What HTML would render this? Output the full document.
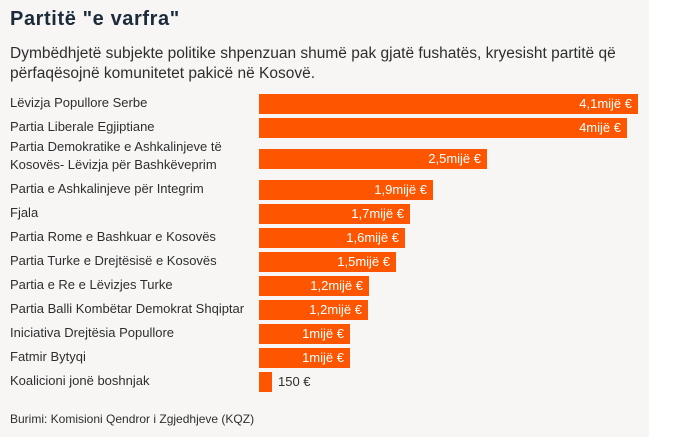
<!DOCTYPE html>
<html>
<head>
<meta charset="utf-8">
<style>
  html,body{margin:0;padding:0;}
  body{width:673px;height:441px;background:#ffffff;position:relative;overflow:hidden;font-family:"Liberation Sans",Arial,sans-serif;}
  #panel{position:absolute;left:0;top:0;width:649px;height:437px;background:#f7f6f5;}
  .title{position:absolute;left:10px;top:7px;font-size:20px;line-height:24px;font-weight:bold;color:#1c2b3a;letter-spacing:0.6px;white-space:nowrap;}
  .sub{position:absolute;left:10px;top:44px;font-size:15.5px;line-height:20px;color:#2e2e2e;white-space:nowrap;}
  .lbl{position:absolute;left:10px;font-size:13px;line-height:20px;height:20px;color:#2e2e2e;white-space:nowrap;margin-top:-1.5px;}
  .lbl2{position:absolute;left:10px;font-size:13px;line-height:18px;color:#2e2e2e;white-space:nowrap;}
  .bar{position:absolute;left:259px;height:20px;background:#fe5600;}
  .val{position:absolute;right:6px;top:0;font-size:13px;line-height:20px;color:#ffffff;white-space:nowrap;}
  .out{position:absolute;font-size:13px;line-height:20px;color:#2e2e2e;white-space:nowrap;}
  .src{position:absolute;left:10px;top:411px;font-size:12px;line-height:16px;color:#2e2e2e;white-space:nowrap;}
</style>
</head>
<body>
<div id="panel"></div>
<div class="title">Partitë "e varfra"</div>
<div class="sub">Dymbëdhjetë subjekte politike shpenzuan shumë pak gjatë fushatës, kryesisht partitë që<br>përfaqësojnë komunitetet pakicë në Kosovë.</div>

<div class="lbl" style="top:94px;">Lëvizja Popullore Serbe</div>
<div class="bar" style="top:94px;width:379px;"><span class="val">4,1mijë €</span></div>

<div class="lbl" style="top:118px;">Partia Liberale Egjiptiane</div>
<div class="bar" style="top:118px;width:368px;"><span class="val">4mijë €</span></div>

<div class="lbl2" style="top:138px;">Partia Demokratike e Ashkalinjeve të<br>Kosovës- Lëvizja për Bashkëveprim</div>
<div class="bar" style="top:149px;width:228px;"><span class="val">2,5mijë €</span></div>

<div class="lbl" style="top:180px;">Partia e Ashkalinjeve për Integrim</div>
<div class="bar" style="top:180px;width:174px;"><span class="val">1,9mijë €</span></div>

<div class="lbl" style="top:204px;">Fjala</div>
<div class="bar" style="top:204px;width:151px;"><span class="val">1,7mijë €</span></div>

<div class="lbl" style="top:228px;">Partia Rome e Bashkuar e Kosovës</div>
<div class="bar" style="top:228px;width:146px;"><span class="val">1,6mijë €</span></div>

<div class="lbl" style="top:252px;">Partia Turke e Drejtësisë e Kosovës</div>
<div class="bar" style="top:252px;width:137px;"><span class="val">1,5mijë €</span></div>

<div class="lbl" style="top:276px;">Partia e Re e Lëvizjes Turke</div>
<div class="bar" style="top:276px;width:110px;"><span class="val">1,2mijë €</span></div>

<div class="lbl" style="top:300px;">Partia Balli Kombëtar Demokrat Shqiptar</div>
<div class="bar" style="top:300px;width:109px;"><span class="val">1,2mijë €</span></div>

<div class="lbl" style="top:324px;">Iniciativa Drejtësia Popullore</div>
<div class="bar" style="top:324px;width:91px;"><span class="val">1mijë €</span></div>

<div class="lbl" style="top:348px;">Fatmir Bytyqi</div>
<div class="bar" style="top:348px;width:91px;"><span class="val">1mijë €</span></div>

<div class="lbl" style="top:372px;">Koalicioni jonë boshnjak</div>
<div class="bar" style="top:372px;width:13px;"></div>
<div class="out" style="top:372px;left:278px;">150 €</div>

<div class="src">Burimi: Komisioni Qendror i Zgjedhjeve (KQZ)</div>
</body>
</html>
